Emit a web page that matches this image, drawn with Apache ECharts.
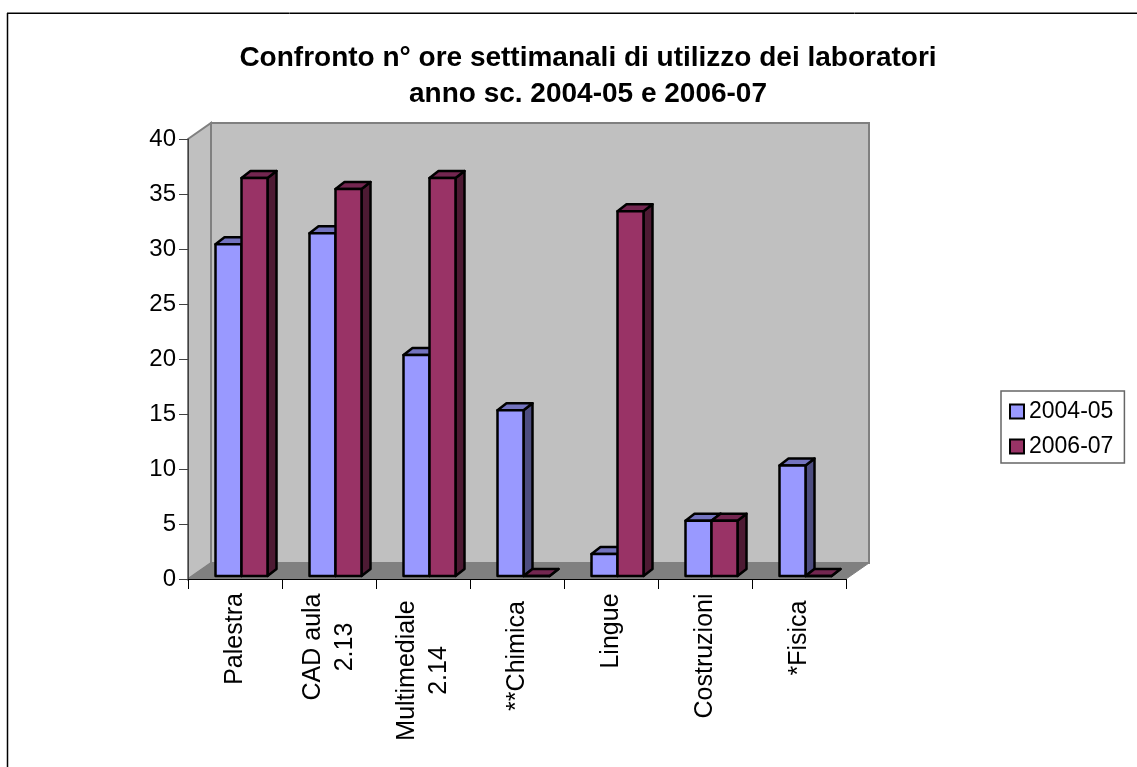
<!DOCTYPE html>
<html>
<head>
<meta charset="utf-8">
<title>Confronto ore laboratori</title>
<script src="https://cdn.jsdelivr.net/npm/echarts@6/dist/echarts.min.js"></script>
<style>
html, body { margin: 0; padding: 0; background: #fff; }
#chart { width: 1137px; height: 767px; }
</style>
</head>
<body>
<div id="chart"></div>
<script>
// dati
var categories = ['Palestra', 'CAD aula\n2.13', 'Multimediale\n2.14', '**Chimica', 'Lingue', 'Costruzioni', '*Fisica'];
var values0405 = [30, 31, 20, 15, 2, 5, 10];
var values0607 = [36, 35, 36, 0, 33, 5, 0];
var yTicks = [0, 40, 5]; // min, max, passo

var font = '"Liberation Sans", Arial, sans-serif';
// larghezza riservata a ogni etichetta (centra le due righe)
var labelWidths = [92, 108, 155, 126, 76, 126, 90];
var richLabels = {};
labelWidths.forEach(function (w, i) {
    richLabels['c' + i] = { width: w, align: 'center', fontSize: 25, lineHeight: 32, fontFamily: font, color: '#000' };
});

var chart = echarts.init(document.getElementById('chart'));

// pareti e pavimento del finto 3D
function renderWalls(params, api) {
    var c = params.coordSys;
    var dx = 23, dy = -16;
    var x0 = c.x, x1 = c.x + c.width, y0 = c.y, y1 = c.y + c.height;
    var edge = { stroke: '#808080', lineWidth: 2 };
    return {
        type: 'group',
        children: [
            { type: 'polygon', shape: { points: [[x0, y0], [x0 + dx, y0 + dy], [x0 + dx, y1 + dy], [x0, y1]] },
              style: Object.assign({ fill: '#c0c0c0' }, edge) },
            { type: 'polygon', shape: { points: [[x0 + dx, y0 + dy], [x1 + dx, y0 + dy], [x1 + dx, y1 + dy], [x0 + dx, y1 + dy]] },
              style: Object.assign({ fill: '#c0c0c0' }, edge) },
            { type: 'polygon', shape: { points: [[x0, y1], [x0 + dx, y1 + dy], [x1 + dx, y1 + dy], [x1, y1]] },
              style: { fill: '#808080', stroke: '#808080', lineWidth: 1 } }
        ]
    };
}

// barra 3D: fronte, faccia superiore, fianco
function barRenderer(offset, front, top, side) {
    return function (params, api) {
        var i = api.value(0);
        var zero = api.coord([i, 0]);
        var peak = api.coord([i, api.value(1)]);
        var band = api.size([1, 0])[0];
        var w = 26, ddx = 9, ddy = -7;
        var x = zero[0] - band / 2 + offset;
        var yb = zero[1] - 3;
        var yt = yb + (peak[1] - zero[1]) * 1.005;
        var line = { stroke: '#000', lineWidth: 2.5, lineJoin: 'round' };
        return {
            type: 'group',
            children: [
                { type: 'polygon', shape: { points: [[x + w, yb], [x + w + ddx, yb + ddy], [x + w + ddx, yt + ddy], [x + w, yt]] },
                  style: Object.assign({ fill: side }, line) },
                { type: 'polygon', shape: { points: [[x, yt], [x + ddx, yt + ddy], [x + w + ddx, yt + ddy], [x + w, yt]] },
                  style: Object.assign({ fill: top }, line) },
                { type: 'polygon', shape: { points: [[x, yb], [x + w, yb], [x + w, yt], [x, yt]] },
                  style: Object.assign({ fill: front }, line) }
            ]
        };
    };
}

function pairs(list) {
    return list.map(function (v, i) { return [i, v]; });
}

var option = {
    backgroundColor: '#fff',
    animation: false,
    title: {
        text: 'Confronto n° ore settimanali di utilizzo dei laboratori\nanno sc. 2004-05 e 2006-07',
        left: 583,
        top: 35,
        textAlign: 'center',
        textStyle: { fontFamily: font, fontSize: 28, fontWeight: 'bold', color: '#000', lineHeight: 36 }
    },
    legend: {
        orient: 'vertical',
        left: 1001,
        top: 391,
        padding: [9, 11, 5, 8],
        itemWidth: 14,
        itemHeight: 14,
        itemGap: 12,
        icon: 'rect',
        selectedMode: false,
        borderColor: '#666',
        borderWidth: 1.5,
        textStyle: { fontFamily: font, fontSize: 23, color: '#000', padding: [0, 0, 0, 0] },
        data: [
            { name: '2004-05', itemStyle: { color: '#9999ff', borderColor: '#000', borderWidth: 2 } },
            { name: '2006-07', itemStyle: { color: '#993366', borderColor: '#000', borderWidth: 2 } }
        ]
    },
    grid: { left: 188, top: 139, width: 658, height: 440 },
    xAxis: {
        type: 'category',
        data: categories,
        z: 3,
        axisLine: { lineStyle: { color: '#000', width: 1 } },
        axisTick: { show: true, alignWithLabel: false, length: 10, lineStyle: { color: '#000' } },
        axisLabel: {
            interval: 0,
            rotate: 90,
            margin: 14,
            hideOverlap: false,
            formatter: function (value, index) {
                return value.split('\n').map(function (s) { return '{c' + index + '|' + s + '}'; }).join('\n');
            },
            rich: richLabels
        }
    },
    yAxis: {
        type: 'value',
        min: yTicks[0],
        max: yTicks[1],
        interval: yTicks[2],
        z: 3,
        axisLine: { show: true, lineStyle: { color: '#404040', width: 1 } },
        axisTick: { show: true, length: 9, lineStyle: { color: '#404040' } },
        axisLabel: { margin: 12, fontFamily: font, fontSize: 24, color: '#000' },
        splitLine: { show: false }
    },
    series: [
        { type: 'custom', name: 'pareti', z: 1, clip: false, silent: true, renderItem: renderWalls, data: [[0, 0]] },
        { type: 'custom', name: '2004-05', z: 4, clip: false, encode: { x: 0, y: 1 },
          renderItem: barRenderer(27.5, '#9999ff', '#7373bf', '#4d4d80'), data: pairs(values0405) },
        { type: 'custom', name: '2006-07', z: 5, clip: false, encode: { x: 0, y: 1 },
          renderItem: barRenderer(53.5, '#993366', '#732650', '#4d1a33'), data: pairs(values0607) }
    ],
    // cornice dell'oggetto incollato (solo lati alto e sinistro)
    graphic: [
        { type: 'line', silent: true, shape: { x1: 7, y1: 12.5, x2: 1137, y2: 12.5 }, style: { stroke: '#808080', lineWidth: 1 } },
        { type: 'line', silent: true, shape: { x1: 7, y1: 13.5, x2: 1137, y2: 13.5 }, style: { stroke: '#000', lineWidth: 1 } },
        { type: 'line', silent: true, shape: { x1: 7.5, y1: 13, x2: 7.5, y2: 767 }, style: { stroke: '#000', lineWidth: 1.5 } }
    ]
};
chart.setOption(option);

window.addEventListener('resize', function () {
    chart.resize();
});
</script>
</body>
</html>
